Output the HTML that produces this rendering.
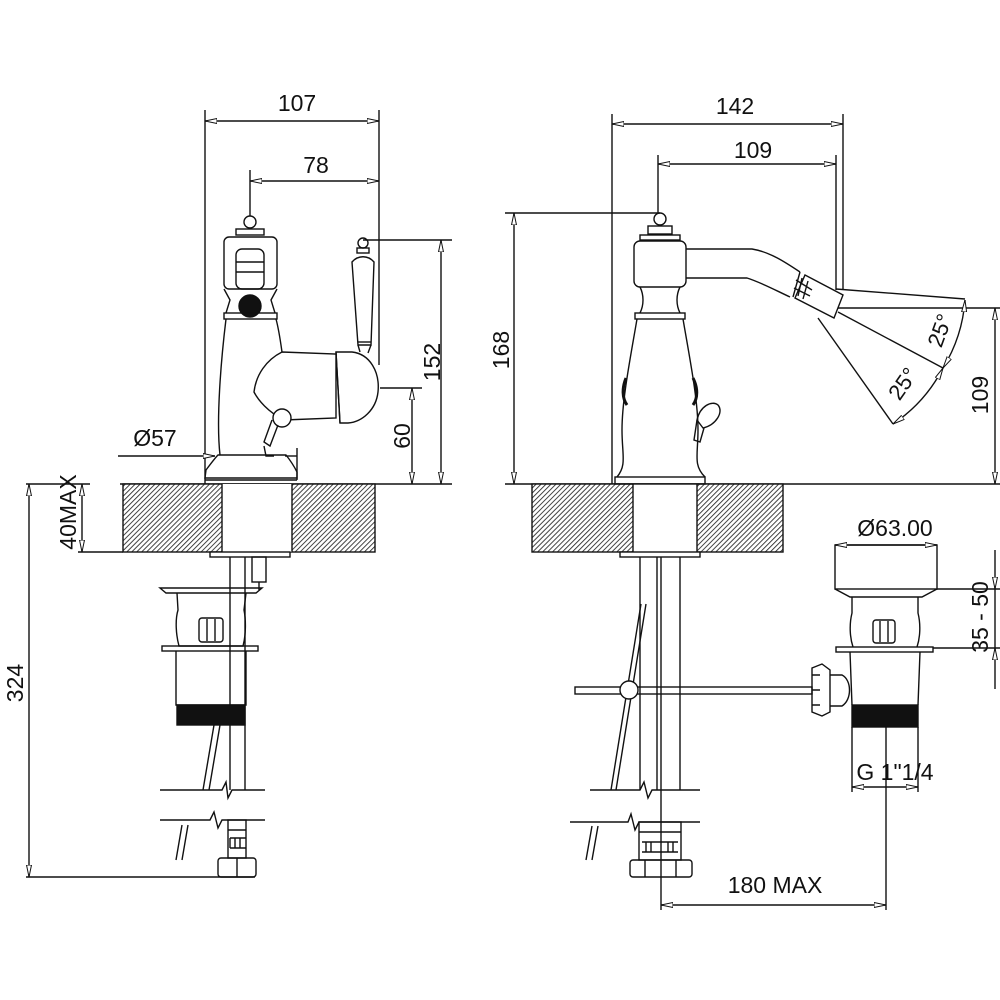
<!DOCTYPE html>
<html><head><meta charset="utf-8"><style>
html,body{margin:0;padding:0;background:#fff;}
svg{display:block}
text{font-family:"Liberation Sans",Arial,sans-serif;fill:#111;}
</style></head><body>
<svg width="1000" height="1000" viewBox="0 0 1000 1000" xmlns="http://www.w3.org/2000/svg">
<defs>
<pattern id="h" width="3.5" height="3.5" patternUnits="userSpaceOnUse" patternTransform="rotate(45)">
<rect width="3.5" height="3.5" fill="#fff"/><line x1="0" y1="0" x2="0" y2="3.5" stroke="#222" stroke-width="1.7"/>
</pattern>
<marker id="a" viewBox="0 0 12 6" refX="12" refY="3" markerWidth="12" markerHeight="6" orient="auto-start-reverse" markerUnits="userSpaceOnUse">
<path d="M0,0.5 L12,3 L0,5.5 Z" fill="#fff" stroke="#111" stroke-width="1"/>
</marker>
</defs>
<g stroke="#111" stroke-width="1.4" fill="none">
<line x1="205" y1="110" x2="205" y2="484"/>
<line x1="379" y1="110" x2="379" y2="365"/>
<line x1="205" y1="121" x2="379" y2="121" marker-start="url(#a)" marker-end="url(#a)"/>
<line x1="250" y1="170" x2="250" y2="216"/>
<line x1="250" y1="181" x2="379" y2="181" marker-start="url(#a)" marker-end="url(#a)"/>
<line x1="363" y1="240" x2="452" y2="240"/>
<line x1="441" y1="240" x2="441" y2="484" marker-start="url(#a)" marker-end="url(#a)"/>
<line x1="380" y1="388" x2="422" y2="388"/>
<line x1="412" y1="388" x2="412" y2="484" marker-start="url(#a)" marker-end="url(#a)"/>
<line x1="120" y1="484" x2="452" y2="484"/>
<line x1="118" y1="456" x2="215" y2="456" marker-end="url(#a)"/>
<line x1="297" y1="456" x2="285" y2="456" />
<line x1="297" y1="448" x2="297" y2="480"/>
<line x1="26" y1="484" x2="90" y2="484"/>
<line x1="78" y1="552" x2="123" y2="552"/>
<line x1="82" y1="484" x2="82" y2="552" marker-start="url(#a)" marker-end="url(#a)"/>
<line x1="29" y1="484" x2="29" y2="877" marker-start="url(#a)" marker-end="url(#a)"/>
<line x1="26" y1="877" x2="255" y2="877"/>
<rect x="123" y="484" width="252" height="68" fill="url(#h)"/>
<rect x="222" y="484" width="70" height="68" fill="#fff" stroke="none"/>
<line x1="222" y1="484" x2="222" y2="552"/><line x1="292" y1="484" x2="292" y2="552"/>
<rect x="210" y="552" width="80" height="5" fill="#fff"/>
<circle cx="250" cy="222" r="6"/>
<rect x="236" y="229" width="28" height="6"/>
<rect x="224" y="237" width="53" height="52" rx="5"/>
<rect x="236" y="249" width="28" height="40" rx="6"/>
<line x1="236" y1="262" x2="264" y2="262"/><line x1="236" y1="272" x2="264" y2="272"/>
<circle cx="250" cy="306" r="11" fill="#111"/>
<path d="M224,289 L230,300 L226,313 M277,289 L271,300 L275,313"/>
<rect x="224" y="313" width="53" height="6"/>
<path d="M226,319 C221,360 216,420 220,455 M276,319 C279,330 281,345 282,352"/>
<path d="M206,470 C212,462 215,458 218,455 L286,455 C290,460 294,466 297,472 L297,478 L205,478 Z"/>
<line x1="205" y1="480" x2="297" y2="480"/>
<path d="M282,352 L336,354 L336,418 L284,420 C268,412 258,400 254,392 C256,375 266,360 282,352 Z"/>
<path d="M336,352 L352,352 C370,354 380,372 378,392 C376,410 362,422 348,423 L340,423 Z"/>
<line x1="336" y1="352" x2="340" y2="423"/>
<circle cx="282" cy="418" r="9" fill="#fff"/>
<path d="M272,420 L264,442 L270,446 L278,425"/>
<path d="M264,446 L266,456 L274,456"/>
<circle cx="363" cy="243" r="5"/>
<rect x="357" y="248" width="12" height="5"/>
<path d="M352,262 C358,255 368,255 374,262 L371,345 L358,345 Z"/>
<line x1="358" y1="342" x2="371" y2="342"/>
<path d="M358,345 L360,352 M371,345 L368,353"/>
<line x1="230" y1="557" x2="230" y2="790"/><line x1="245" y1="557" x2="245" y2="790"/>
<rect x="252" y="557" width="14" height="25"/>
<line x1="259" y1="582" x2="259" y2="590"/>
<path d="M214,725 L203,790 M220,725 L209,790"/>
<path d="M160,790 L222,790 L226,782 L228,798 L232,790 L265,790"/>
<path d="M160,820 L210,820 L214,812 L218,828 L222,820 L265,820"/>
<path d="M182,825 L176,860 M188,825 L182,860"/>
<rect x="228" y="820" width="18" height="38"/>
<line x1="228" y1="830" x2="246" y2="830"/>
<path d="M230,838 v10 M235,838 v10 M240,838 v10 M230,838 h16 M230,848 h16"/>
<rect x="218" y="858" width="38" height="19" rx="3"/>
<line x1="237" y1="858" x2="237" y2="877"/>
<path d="M160,588 L262,588 L256,593 L166,593 Z"/>
<path d="M177,593 L178,610 C175,620 176,635 179,646 L243,646 C246,635 246,620 244,610 L246,593"/>
<rect x="199" y="618" width="24" height="24" rx="3"/>
<line x1="207" y1="619" x2="207" y2="641"/><line x1="215" y1="619" x2="215" y2="641"/>
<rect x="162" y="646" width="96" height="5"/>
<path d="M176,651 L176,705 L246,705 L246,651"/>
<rect x="177" y="705" width="68" height="20" fill="#111"/>
<line x1="612" y1="114" x2="612" y2="484"/>
<line x1="843" y1="114" x2="843" y2="290"/>
<line x1="612" y1="124" x2="843" y2="124" marker-start="url(#a)" marker-end="url(#a)"/>
<line x1="658" y1="155" x2="658" y2="214"/>
<line x1="836" y1="155" x2="836" y2="290"/>
<line x1="658" y1="164" x2="836" y2="164" marker-start="url(#a)" marker-end="url(#a)"/>
<line x1="505" y1="213" x2="660" y2="213"/>
<line x1="514" y1="213" x2="514" y2="484" marker-start="url(#a)" marker-end="url(#a)"/>
<line x1="505" y1="484" x2="1000" y2="484"/>
<line x1="838" y1="308" x2="1000" y2="308"/>
<line x1="995" y1="308" x2="995" y2="484" marker-start="url(#a)" marker-end="url(#a)"/>
<line x1="836" y1="289" x2="965" y2="299"/>
<line x1="838" y1="312" x2="943" y2="368"/>
<line x1="818" y1="318" x2="893" y2="424"/>
<path d="M965,300 A150,150 0 0 1 943,368" marker-start="url(#a)" marker-end="url(#a)"/>
<path d="M943,368 A150,150 0 0 1 893,424" marker-start="url(#a)" marker-end="url(#a)"/>
<rect x="532" y="484" width="251" height="68" fill="url(#h)"/>
<rect x="633" y="484" width="64" height="68" fill="#fff" stroke="none"/>
<line x1="633" y1="484" x2="633" y2="552"/><line x1="697" y1="484" x2="697" y2="552"/>
<rect x="620" y="552" width="80" height="5" fill="#fff"/>
<circle cx="660" cy="219" r="6"/>
<rect x="648" y="226" width="24" height="8"/>
<rect x="640" y="235" width="40" height="5"/>
<rect x="634" y="241" width="52" height="46" rx="6"/>
<path d="M640,287 C644,295 644,305 640,313 M680,287 C676,295 676,305 680,313"/>
<rect x="635" y="313" width="50" height="6"/>
<path d="M637,319 C630,360 622,400 622,430 C622,455 627,465 617,477 M683,319 C690,360 698,400 698,430 C698,455 693,465 705,477"/>
<rect x="615" y="477" width="90" height="7"/>
<path d="M626,378 C622,388 622,398 627,405 M693,378 C698,388 698,398 693,405" stroke-width="3"/>
<path d="M697,420 C700,406 712,400 718,405 C724,412 716,425 703,428 Z"/>
<path d="M697,420 L694,440 L700,442 L704,428"/>
<path d="M686,249 L752,249 C770,252 785,262 800,272"/>
<path d="M686,278 L747,278 C760,282 775,290 790,297"/>
<path d="M800,272 L793,297"/>
<path d="M805,275 L843,295 L834,318 L795,298 Z"/>
<path d="M796,280 L812,290 M794,288 L810,296 M802,278 L798,296 M808,281 L803,299"/>
<line x1="640" y1="557" x2="640" y2="790"/><line x1="657" y1="557" x2="657" y2="790"/>
<line x1="661" y1="557" x2="661" y2="910"/><line x1="680" y1="557" x2="680" y2="790"/>
<path d="M641,604 L611,790 M646,604 L616,790"/>
<path d="M590,790 L640,790 L644,782 L648,798 L652,790 L700,790"/>
<path d="M570,822 L628,822 L631,814 L635,830 L639,822 L700,822"/>
<path d="M592,826 L586,860 M598,826 L592,860"/>
<rect x="639" y="822" width="42" height="38"/>
<line x1="639" y1="832" x2="681" y2="832"/>
<path d="M642,842 h36 M642,852 h36 M646,842 v10 M651,842 v10 M668,842 v10 M673,842 v10"/>
<rect x="630" y="860" width="62" height="17" rx="3"/>
<line x1="645" y1="860" x2="645" y2="877"/><line x1="676" y1="860" x2="676" y2="877"/>
<rect x="575" y="687" width="237" height="7"/>
<circle cx="629" cy="690" r="9" fill="#fff"/>
<path d="M812,668 L822,664 L830,670 L830,712 L822,716 L812,712 Z"/>
<path d="M812,675 h8 M812,690 h8 M812,705 h8"/>
<path d="M830,675 L842,675 C852,680 852,700 842,706 L830,706"/>
<rect x="835" y="545" width="102" height="44"/>
<path d="M835,589 L850,597 L922,597 L937,589"/>
<path d="M852,597 L852,613 C849,625 850,638 853,647 M918,597 L918,613 C921,625 920,638 917,647"/>
<rect x="873" y="620" width="22" height="23" rx="3"/>
<line x1="880" y1="621" x2="880" y2="642"/><line x1="888" y1="621" x2="888" y2="642"/>
<rect x="836" y="647" width="97" height="5"/>
<path d="M850,652 L852,705 M920,652 L918,705"/>
<rect x="852" y="705" width="66" height="22" fill="#111"/>
<line x1="835" y1="545" x2="937" y2="545" marker-start="url(#a)" marker-end="url(#a)"/>
<line x1="937" y1="589" x2="1000" y2="589"/>
<line x1="933" y1="648" x2="1000" y2="648"/>
<line x1="995" y1="550" x2="995" y2="589" marker-end="url(#a)"/>
<line x1="995" y1="689" x2="995" y2="648" marker-end="url(#a)"/>
<line x1="995" y1="589" x2="995" y2="648"/>
<line x1="852" y1="727" x2="852" y2="792"/>
<line x1="918" y1="727" x2="918" y2="792"/>
<line x1="886" y1="727" x2="886" y2="910"/>
<line x1="852" y1="787" x2="918" y2="787" marker-start="url(#a)" marker-end="url(#a)"/>
<line x1="661" y1="905" x2="886" y2="905" marker-start="url(#a)" marker-end="url(#a)"/>
</g>
<g font-size="23">
<text x="297" y="111" text-anchor="middle">107</text>
<text x="316" y="173" text-anchor="middle">78</text>
<text x="155" y="446" text-anchor="middle">Ø57</text>
<text transform="translate(440,362) rotate(-90)" text-anchor="middle">152</text>
<text transform="translate(410,436) rotate(-90)" text-anchor="middle">60</text>
<text transform="translate(76,512) rotate(-90)" text-anchor="middle">40MAX</text>
<text transform="translate(23,683) rotate(-90)" text-anchor="middle">324</text>
<text x="735" y="114" text-anchor="middle">142</text>
<text x="753" y="158" text-anchor="middle">109</text>
<text transform="translate(509,350) rotate(-90)" text-anchor="middle">168</text>
<text transform="translate(988,395) rotate(-90)" text-anchor="middle">109</text>
<text transform="translate(947,333) rotate(-70)" text-anchor="middle" font-size="22">25°</text>
<text transform="translate(909,388) rotate(-55)" text-anchor="middle" font-size="22">25°</text>
<text x="895" y="536" text-anchor="middle">Ø63.00</text>
<text transform="translate(988,617) rotate(-90)" text-anchor="middle">35 - 50</text>
<text x="895" y="780" text-anchor="middle">G 1"1/4</text>
<text x="775" y="893" text-anchor="middle">180 MAX</text>
</g>
</svg>
</body></html>
